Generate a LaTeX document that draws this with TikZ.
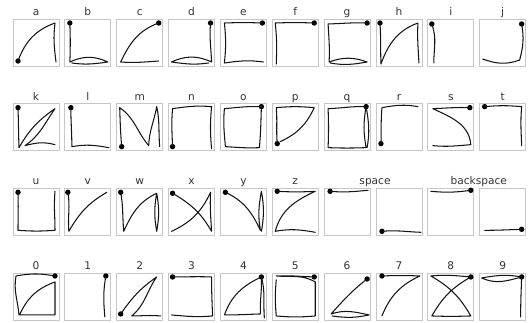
\documentclass[tikz,border=0pt]{standalone}
\usepackage{fontspec}
\setmainfont{DejaVu Sans}
\usetikzlibrary{calc}
\tikzset{
  cell/.style={draw=black!22, line width=0.9pt, minimum width=46pt, minimum height=47pt, inner sep=0pt, outer sep=0pt, anchor=south west},
  lab/.style={anchor=base, inner sep=0pt, text=black!80, font=\fontsize{10.6}{12}\selectfont},
  stk/.style={draw=black!92, line width=1.05pt, line cap=round, line join=round},
  dotc/.style={fill=black}
}
\newcommand{\cellbox}[5]{%
  \node[cell] (#1) at ({13+51.85*#2},{256-84.65*#3}) {};
  \if\relax\detokenize{#4}\relax\else
    \node[lab] (l#1) at ([yshift=3.6pt]#1.north) {#4};
  \fi
  \begin{scope}[shift={(#1.south west)}]#5\end{scope}%
}
\newcommand{\gdot}[1]{\fill[dotc] #1 circle (2.7pt);}
\begin{document}
\begin{tikzpicture}[x=1pt,y=1pt]
\useasboundingbox (0,0) rectangle (528,322);
% ---------- row 0
\cellbox{ca}{0}{0}{a}{\gdot{(5,5)}\draw[stk] (5,5) to[out=70,in=200] (42,43) to[out=-97,in=97] (43,4);}
\cellbox{cb}{1}{0}{b}{\gdot{(5,43)}\draw[stk] (5,43) to[out=-88,in=88] (5,4) to[out=25,in=155] (43,4) to[out=188,in=-8] (7,3);}
\cellbox{cc}{2}{0}{c}{\gdot{(42,43)}\draw[stk] (42,43) to[out=200,in=65] (4,4) to[out=-4,in=184] (42,5);}
\cellbox{cd}{3}{0}{d}{\gdot{(42,43)}\draw[stk] (42,43) to[out=-95,in=92] (43,4) to[out=155,in=25] (3,4) to[out=-8,in=188] (40,3);}
\cellbox{ce}{4}{0}{e}{\gdot{(42,43)}\draw[stk] (42,43) to[out=178,in=2] (4,43) to[out=-84,in=84] (4,3) to[out=8,in=172] (43,4);}
\cellbox{cf}{5}{0}{f}{\gdot{(42,43)}\draw[stk] (42,43) to[out=178,in=2] (3,43) to[out=-84,in=88] (4,2);}
\cellbox{cg}{6}{0}{g}{\gdot{(43,43)}\draw[stk] (43,43) to[out=178,in=2] (4,42) to[out=-87,in=87] (5,4) to[out=20,in=160] (43,4) to[out=190,in=-10] (6,3);}
\cellbox{ch}{7}{0}{h}{\gdot{(4,43)}\draw[stk] (4,43) to[out=-86,in=92] (5,2) to[out=70,in=200] (42,43) to[out=-93,in=93] (43,3);}
\cellbox{ci}{8}{0}{i}{\gdot{(4,42)}\draw[stk] (4,42) to[out=-70,in=90] (6,3);}
\cellbox{cj}{9}{0}{j}{\gdot{(42,42)}\draw[stk] (42,42) to[out=-80,in=75] (40,6) to[out=200,in=-20] (3,7);}
% ---------- row 1
\cellbox{ck}{0}{1}{k}{\gdot{(5,43)}\draw[stk] (5,43) to[out=-88,in=92] (6,3) to[out=60,in=215] (42,42) to[out=235,in=35] (12,5) to[out=15,in=165] (42,6);}
\cellbox{cl}{1}{1}{l}{\gdot{(6,43)}\draw[stk] (6,43) to[out=-90,in=90] (7,4) to[out=10,in=170] (44,3);}
\cellbox{cm}{2}{1}{m}{\gdot{(5,4)}\draw[stk] (5,4) to[out=95,in=-88] (3,43) to[out=-35,in=130] (32,5) to[out=88,in=-100] (40,44) to[out=-78,in=95] (43,4);}
\cellbox{cn}{3}{1}{n}{\gdot{(4,4)}\draw[stk] (4,4) to[out=92,in=-95] (4,42) to[out=8,in=175] (43,44) to[out=-95,in=95] (43,2);}
\cellbox{co}{4}{1}{o}{\gdot{(41,44)}\draw[stk] (41,44) to[out=178,in=5] (4,42) to[out=-95,in=95] (5,4) to[out=-3,in=183] (39,3) to[out=85,in=-92] (41,44);}
\cellbox{cp}{5}{1}{p}{\gdot{(5,7)}\draw[stk] (5,7) to[out=95,in=-85] (4,43) to[out=5,in=175] (42,43) to[out=-115,in=25] (8,9);}
\cellbox{cq}{6}{1}{q}{\gdot{(42,44)}\draw[stk] (42,44) to[out=178,in=2] (4,42) to[out=-88,in=88] (4,3) to[out=-2,in=182] (42,3) to[out=100,in=-100] (42,44) to[out=-80,in=80] (43,3);}
\cellbox{cr}{7}{1}{r}{\gdot{(5,7)}\draw[stk] (5,7) to[out=88,in=-95] (6,43) to[out=10,in=170] (42,44);}
\cellbox{cs}{8}{1}{s}{\gdot{(42,43)}\draw[stk] (42,43) to[out=178,in=2] (5,42) to[out=-25,in=95] (43,6) to[out=185,in=-5] (5,5);}
\cellbox{ct}{9}{1}{t}{\gdot{(5,44)}\draw[stk] (5,44) to[out=5,in=175] (42,44) to[out=-95,in=92] (42,5);}
% ---------- row 2
\cellbox{cu}{0}{2}{u}{\gdot{(5,43)}\draw[stk] (5,43) to[out=-88,in=90] (5,5) to[out=-4,in=184] (42,5) to[out=90,in=-95] (42,44);}
\cellbox{cv}{1}{2}{v}{\gdot{(3,43)}\draw[stk] (3,43) to[out=-80,in=95] (4,4) to[out=60,in=210] (42,43);}
\cellbox{cw}{2}{2}{w}{\gdot{(4,43)}\draw[stk] (4,43) to[out=-80,in=95] (7,4) to[out=65,in=205] (40,42) to[out=-100,in=100] (40,4) to[out=80,in=-80] (40,42);}
\cellbox{cx}{3}{2}{x}{\gdot{(4,42)}\draw[stk] (4,42) to[out=-30,in=120] (43,4) to[out=93,in=-93] (42,43) to[out=-115,in=25] (3,4);}
\cellbox{cy}{4}{2}{y}{\gdot{(5,43)}\draw[stk] (5,43) to[out=-25,in=115] (40,5) to[out=100,in=-100] (41,44) to[out=-80,in=80] (41,4);}
\cellbox{cz}{5}{2}{z}{\gdot{(5,44)}\draw[stk] (5,44) to[out=-3,in=183] (43,44) to[out=205,in=75] (3,4) to[out=10,in=170] (43,3);}
\cellbox{csa}{6}{2}{}{\gdot{(6,44)}\draw[stk] (6,44) to[out=-5,in=185] (44,45);}
\cellbox{csb}{7}{2}{}{\gdot{(6,4)}\draw[stk] (6,4) to[out=5,in=178] (45,3);}
\cellbox{cba}{8}{2}{}{\gdot{(43,45)}\draw[stk] (43,45) to[out=188,in=-5] (3,44);}
\cellbox{cbb}{9}{2}{}{\gdot{(42,6)}\draw[stk] (42,6) to[out=182,in=0] (5,5);}
\node[lab] (lspace) at ($(csa.north east)!0.5!(csb.north west)+(2,3.6)$) {space};
\node[lab] (lback) at ($(cba.north east)!0.5!(cbb.north west)+(2,3.6)$) {backspace};
% ---------- row 3
\cellbox{d0}{0}{3}{0}{\gdot{(42,44)}\draw[stk] (42,44) to[out=170,in=10] (3,44) to[out=-100,in=95] (6,5) to[out=0,in=180] (42,5) to[out=90,in=-90] (42,38) to[out=200,in=65] (7,6);}
\cellbox{d1}{1}{3}{1}{\gdot{(41,44)}\draw[stk] (41,44) to[out=-100,in=95] (40,3);}
\cellbox{d2}{2}{3}{2}{\gdot{(4,6)}\draw[stk] (4,6) to[out=55,in=215] (40,43) to[out=235,in=40] (15,4) to[out=0,in=175] (44,4);}
\cellbox{d3}{3}{3}{3}{\gdot{(4,43)}\draw[stk] (4,43) to[out=0,in=178] (43,43) to[out=-90,in=92] (44,4) to[out=185,in=-5] (3,5);}
\cellbox{d4}{4}{3}{4}{\gdot{(41,43)}\draw[stk] (41,43) to[out=205,in=70] (4,5) to[out=0,in=182] (40,6) to[out=92,in=-88] (41,43) to[out=-75,in=95] (44,2);}
\cellbox{d5}{5}{3}{5}{\gdot{(42,43)}\draw[stk] (42,43) to[out=178,in=2] (4,44) to[out=-5,in=150] (43,38) to[out=-90,in=90] (43,4) to[out=185,in=-5] (4,4) to[out=95,in=-95] (4,40);}
\cellbox{d6}{6}{3}{6}{\gdot{(43,41)}\draw[stk] (43,41) to[out=218,in=48] (7,6) to[out=18,in=168] (45,5) to[out=192,in=-8] (8,4);}
\cellbox{d7}{7}{3}{7}{\gdot{(6,44)}\draw[stk] (6,44) to[out=2,in=178] (44,44) to[out=205,in=68] (6,4);}
\cellbox{d8}{8}{3}{8}{\gdot{(43,43)}\draw[stk] (43,43) to[out=175,in=5] (3,44) to[out=-30,in=120] (43,4) to[out=182,in=-2] (4,4) to[out=60,in=210] (43,43);}
\cellbox{d9}{9}{3}{9}{\gdot{(42,43)}\draw[stk] (42,43) to[out=170,in=10] (2,42) to[out=-25,in=195] (42,43) to[out=-92,in=90] (41,3);}
\end{tikzpicture}
\end{document}
